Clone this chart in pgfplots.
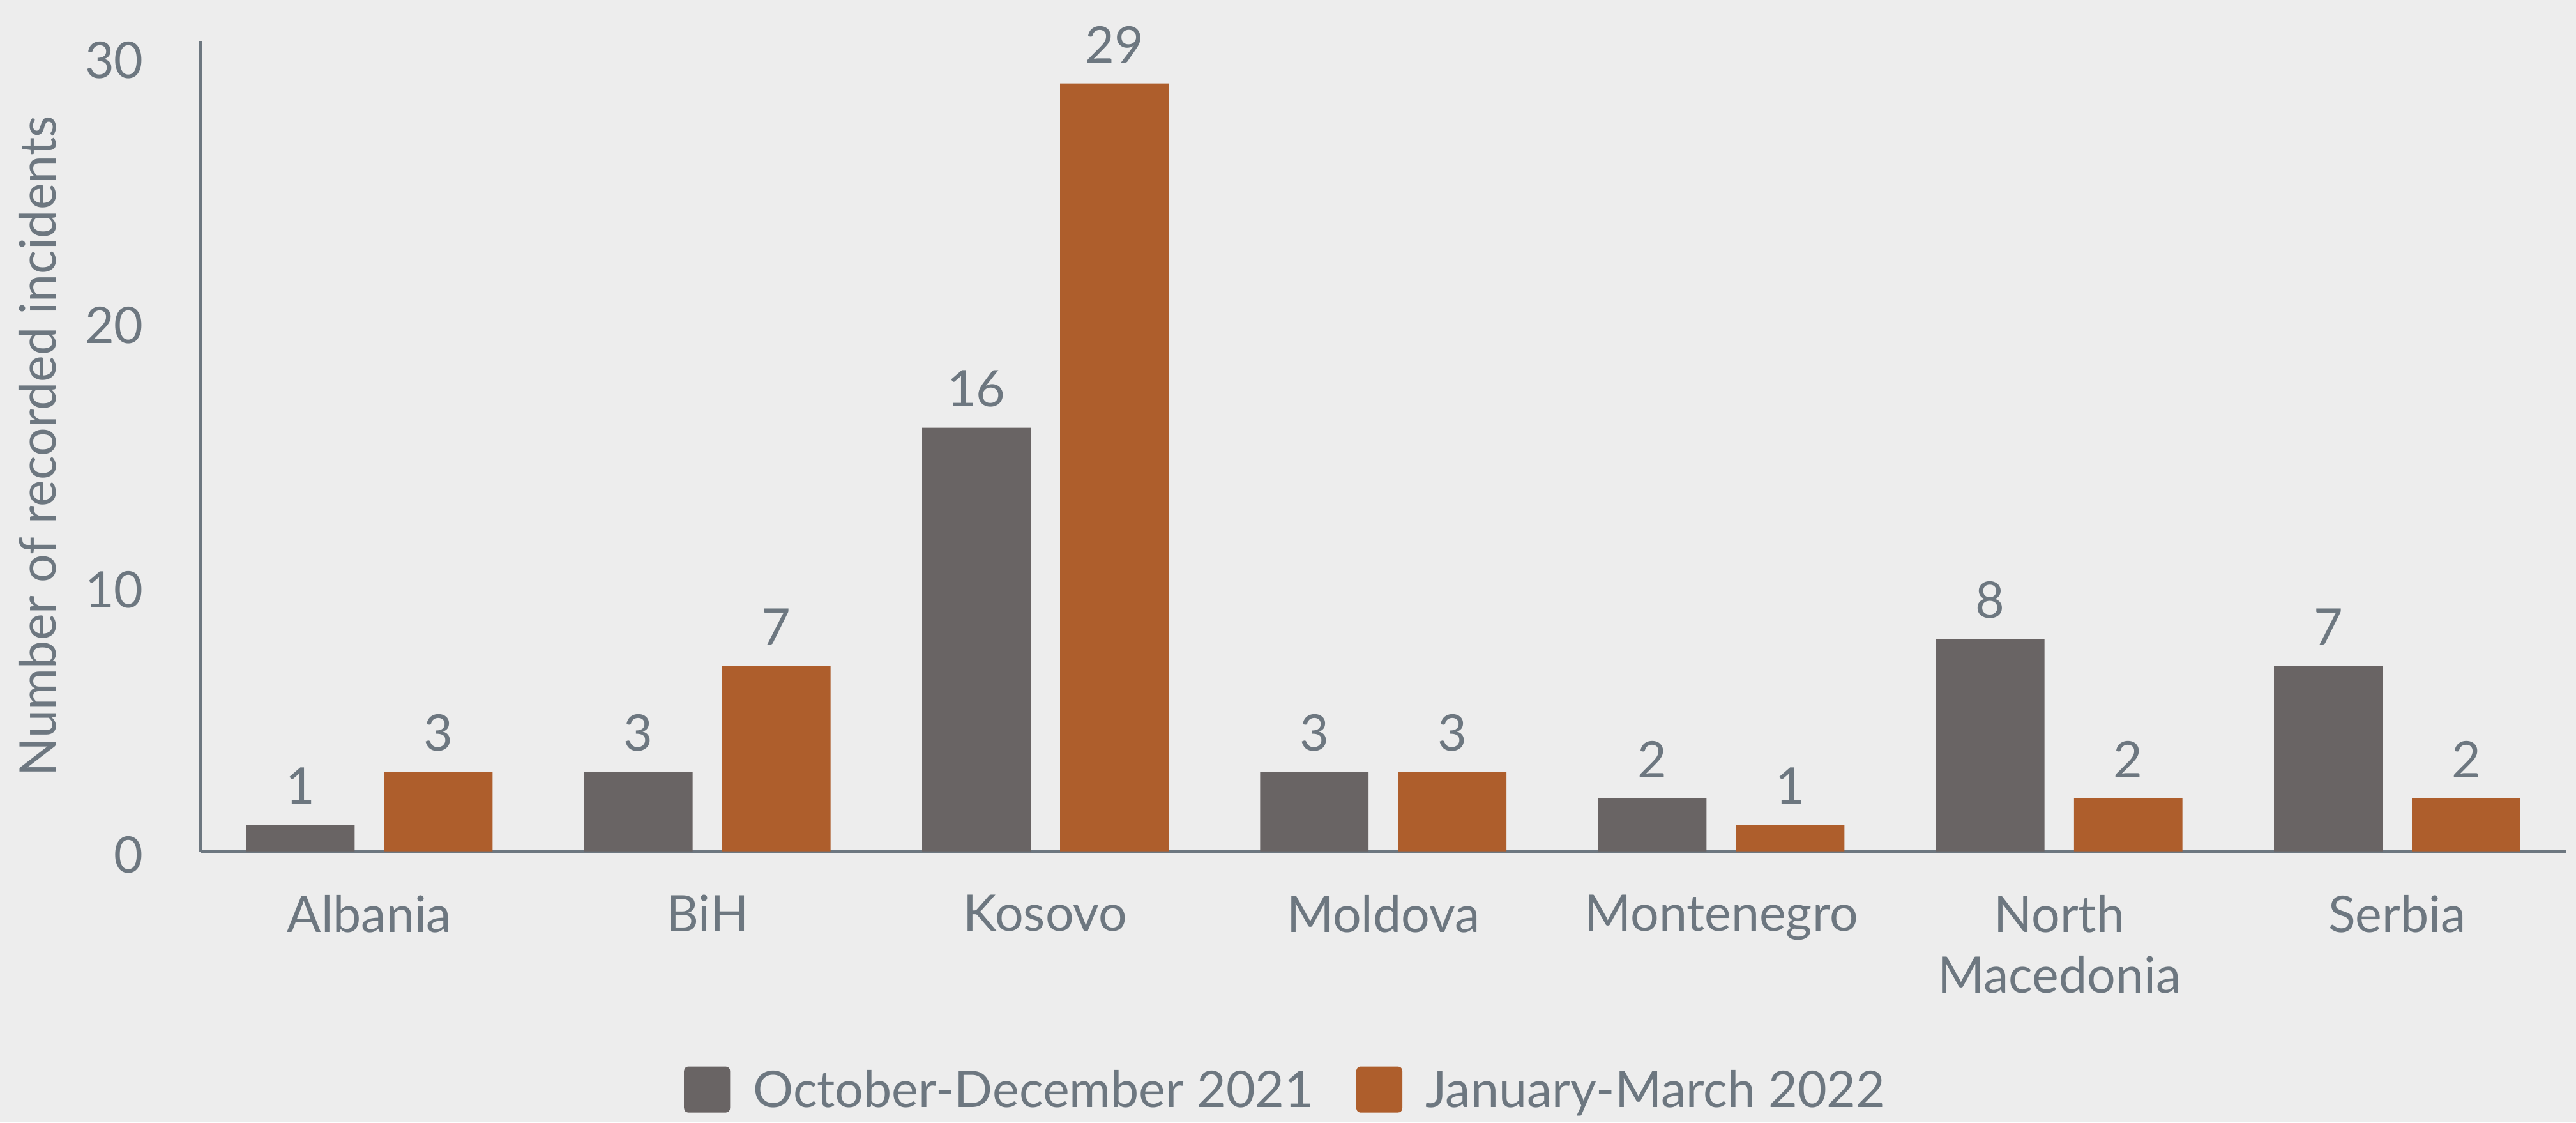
\documentclass[border=0pt]{standalone}
\usepackage{fontspec}
\setmainfont{Lato}
\usepackage{pgfplots}
\pgfplotsset{compat=1.18}
\usetikzlibrary{backgrounds,calc}
\definecolor{bgc}{HTML}{EDEDED}
\definecolor{txt}{HTML}{6D7780}
\definecolor{cgray}{HTML}{696464}
\definecolor{corange}{HTML}{AE5E2C}
\newcommand{\fs}{\fontsize{9.2pt}{11.1pt}\selectfont}
\begin{document}
\begin{tikzpicture}
\begin{axis}[
  scale only axis, width=432pt, height=147.9pt,
  ybar, bar width=19.8pt, ybar=5.4pt,
  xmin=-0.5, xmax=6.5, ymin=0, ymax=30.6,
  xtick={0,...,6},
  xticklabels={Albania,BiH,Kosovo,Moldova,Montenegro,{North\\Macedonia},Serbia},
  ytick={0,10,20,30},
  major tick length=0pt,
  axis x line=bottom, axis y line=left,
  axis line style={-, draw=txt, line width=0.7pt},
  tick style={draw=none},
  /pgf/number format/assume math mode=true,
  tick label style={text=txt, font=\fs, inner sep=0pt},
  xticklabel style={align=center, anchor=north, yshift=-7.8pt},
  yticklabel style={anchor=east, xshift=-10.2pt, yshift=-0.6pt},
  ylabel={Number of recorded incidents},
  ylabel style={at={(axis description cs:-0.0688,0.5)}, anchor=center, text=txt, font=\fs},
  nodes near coords,
  every node near coord/.append style={text=txt, font=\fs, anchor=south, inner sep=0pt, yshift=3.6pt},
  legend columns=2,
  legend style={at={(axis description cs:0.4583,-0.294)}, anchor=center, draw=none, fill=none,
    text=txt, font=\fs, nodes={inner sep=0pt, text height=6.6pt, text depth=0pt}, column sep=4.2pt,
    /tikz/every even column/.append style={column sep=7.8pt}},
  clip=false,
]
\addplot[fill=cgray, draw=none,
  legend image code/.code={\fill[cgray, rounded corners=0.8pt] (0pt,-4.2pt) rectangle (8.4pt,4.2pt);}]
  coordinates {(0,1) (1,3) (2,16) (3,3) (4,2) (5,8) (6,7)};
\addplot[fill=corange, draw=none,
  legend image code/.code={\fill[corange, rounded corners=0.8pt] (0pt,-4.2pt) rectangle (8.4pt,4.2pt);}]
  coordinates {(0,3) (1,7) (2,29) (3,3) (4,1) (5,2) (6,2)};
\legend{October-December 2021, January-March 2022}
\coordinate (sw) at (rel axis cs:0,0);
\coordinate (ne) at (rel axis cs:1,1);
\end{axis}
\begin{scope}[on background layer]
\fill[bgc] ($(sw)+(-36.6pt,-49.5pt)$) rectangle ($(ne)+(1.8pt,7.5pt)$);
\end{scope}
\pgfresetboundingbox
\useasboundingbox ($(sw)+(-36.6pt,-49.5pt)$) rectangle ($(ne)+(1.8pt,7.5pt)$);
\end{tikzpicture}
\end{document}
